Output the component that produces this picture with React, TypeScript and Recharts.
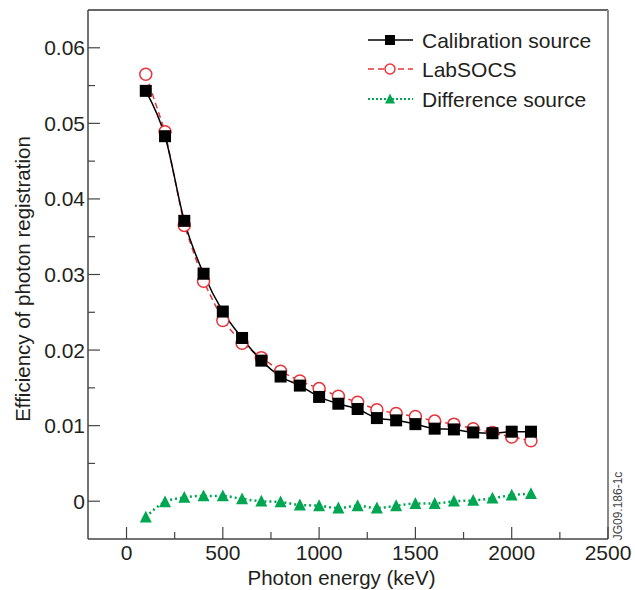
import { LineChart, Line, XAxis, YAxis, ReferenceLine } from "recharts";

const energies = [100, 200, 300, 400, 500, 600, 700, 800, 900, 1000, 1100, 1200, 1300, 1400, 1500, 1600, 1700, 1800, 1900, 2000, 2100];

const calibration = [0.0543, 0.0483, 0.0371, 0.0301, 0.0251, 0.0216, 0.0186, 0.0165, 0.0153, 0.0138, 0.0129, 0.0122, 0.011, 0.0107, 0.0102, 0.0096, 0.0095, 0.0091, 0.009, 0.0092, 0.0092];

const labsocs = [0.0565, 0.0489, 0.0365, 0.0291, 0.0239, 0.0209, 0.019, 0.0172, 0.0159, 0.0149, 0.0139, 0.0131, 0.0121, 0.0116, 0.0112, 0.0106, 0.0102, 0.0096, 0.0091, 0.0085, 0.008];

const difference = [-0.0021, -0.0001, 0.0005, 0.0007, 0.0007, 0.0003, 0.0, -0.0001, -0.0005, -0.0006, -0.0009, -0.0006, -0.0009, -0.0006, -0.0003, -0.0003, 0.0, 0.0001, 0.0004, 0.0008, 0.001];

const xTicks = [0, 250, 500, 750, 1000, 1250, 1500, 1750, 2000, 2250, 2500];
const yTicks = [0, 0.005, 0.01, 0.015, 0.02, 0.025, 0.03, 0.035, 0.04, 0.045, 0.05, 0.055, 0.06];
const yLabels = ["0", "0.01", "0.02", "0.03", "0.04", "0.05", "0.06"];

const legendItems = ["Calibration source", "LabSOCS", "Difference source"];

const data = energies.map((e, i) => ({
  energy: e,
  calibration: calibration[i],
  labsocs: labsocs[i],
  difference: difference[i],
}));

const FONT = "'Liberation Sans', Arial, Helvetica, sans-serif";
const TEXT = "#231f20";
const AXIS = "#444";
const RED = "#e8343a";
const GREEN = "#00a651";

function YTick(props: any) {
  const { x, y, payload } = props;
  const v = payload.value;
  const major = Math.abs(Math.round(v * 100) - v * 100) < 1e-6;
  const label = major ? yLabels[Math.round(v * 100)] : null;
  return (
    <g>
      <line x1={x} x2={x + (major ? 12 : 7)} y1={y} y2={y} stroke={AXIS} strokeWidth={1.2} />
      {label && (
        <text x={x - 3} y={y} dy={7.5} textAnchor="end" fontSize={21} fontFamily={FONT} fill={TEXT}>
          {label}
        </text>
      )}
    </g>
  );
}

function XTick(props: any) {
  const { x, y, payload } = props;
  const v = payload.value;
  const major = v % 500 === 0;
  return (
    <g>
      <line x1={x} x2={x} y1={y} y2={y - (major ? 12 : 7)} stroke={AXIS} strokeWidth={1.2} />
      {major && (
        <text x={x} y={y + 21} textAnchor="middle" fontSize={21} fontFamily={FONT} fill={TEXT}>
          {v}
        </text>
      )}
    </g>
  );
}

function Square({ cx, cy, s = 12 }: any) {
  return <rect x={cx - s / 2} y={cy - s / 2} width={s} height={s} fill="#000" />;
}

function Circle({ cx, cy, r = 6 }: any) {
  return <circle cx={cx} cy={cy} r={r} fill="#fff" stroke={RED} strokeWidth={1.5} />;
}

function Triangle({ cx, cy, s = 12 }: any) {
  const h = s * 0.9;
  return (
    <polygon
      points={`${cx},${cy - h / 2 - 1} ${cx - s / 2},${cy + h / 2} ${cx + s / 2},${cy + h / 2}`}
      fill={GREEN}
    />
  );
}

function YLabel() {
  return (
    <text
      x={30}
      y={279}
      transform="rotate(-90 30 279)"
      textAnchor="middle"
      fontSize={20.5}
      fontFamily={FONT}
      fill={TEXT}
    >
      Efficiency of photon registration
    </text>
  );
}

function XLabel() {
  return (
    <text x={341.5} y={585} textAnchor="middle" fontSize={20.5} fontFamily={FONT} fill={TEXT}>
      Photon energy (keV)
    </text>
  );
}

function Overlay() {
  const rows = [40, 69, 99];
  return (
    <svg width={635} height={590} style={{ position: "absolute", left: 0, top: 0, pointerEvents: "none" }}>
      <line x1={368} x2={413} y1={rows[0]} y2={rows[0]} stroke="#000" strokeWidth={1.5} />
      <Square cx={390} cy={rows[0]} s={10} />
      <line x1={368} x2={413} y1={rows[1]} y2={rows[1]} stroke={RED} strokeWidth={1.5} strokeDasharray="6 4" />
      <Circle cx={390} cy={rows[1]} r={5} />
      <line x1={368} x2={413} y1={rows[2]} y2={rows[2]} stroke={GREEN} strokeWidth={2} strokeDasharray="2 2" />
      <Triangle cx={390} cy={rows[2]} s={10} />
      {legendItems.map((t, i) => (
        <text key={t} x={422} y={rows[i] + 7.5} fontSize={21} fontFamily={FONT} fill={TEXT}>
          {t}
        </text>
      ))}
      <text
        x={622}
        y={506}
        transform="rotate(-90 622 506)"
        textAnchor="middle"
        fontSize={12}
        fontFamily={FONT}
        fill="#444"
      >
        JG09.186-1c
      </text>
    </svg>
  );
}

export default function App() {
  return (
    <div style={{ position: "absolute", left: 0, top: 0, width: 635, height: 590, background: "#fff" }}>
      <LineChart width={635} height={590} data={data} margin={{ top: 10, right: 27, bottom: 0, left: 0 }}>
        <XAxis
          type="number"
          dataKey="energy"
          domain={[-200, 2500]}
          ticks={xTicks}
          interval={0}
          height={51}
          tickSize={0}
          tickMargin={0}
          tick={<XTick />}
          axisLine={{ stroke: AXIS, strokeWidth: 1.5 }}
          label={<XLabel />}
        />
        <YAxis
          type="number"
          domain={[-0.005, 0.065]}
          ticks={yTicks}
          interval={0}
          width={88}
          tickSize={0}
          tickMargin={0}
          tick={<YTick />}
          axisLine={{ stroke: AXIS, strokeWidth: 1.5 }}
          label={<YLabel />}
        />
        <ReferenceLine y={0.065} stroke="#333" strokeWidth={1.5} />
        <ReferenceLine x={2500} stroke="#888" strokeWidth={2} />
        <Line
          dataKey="labsocs"
          type="linear"
          stroke={RED}
          strokeWidth={1.5}
          strokeDasharray="6 4"
          dot={(p: any) => <Circle key={`l${p.index}`} cx={p.cx} cy={p.cy} />}
          isAnimationActive={false}
        />
        <Line
          dataKey="calibration"
          type="monotone"
          stroke="#000"
          strokeWidth={1.5}
          dot={(p: any) => <Square key={`c${p.index}`} cx={p.cx} cy={p.cy} />}
          isAnimationActive={false}
        />
        <Line
          dataKey="difference"
          type="monotone"
          stroke={GREEN}
          strokeWidth={2.5}
          strokeDasharray="2 3"
          dot={(p: any) => <Triangle key={`d${p.index}`} cx={p.cx} cy={p.cy} />}
          isAnimationActive={false}
        />
      </LineChart>
      <Overlay />
    </div>
  );
}
